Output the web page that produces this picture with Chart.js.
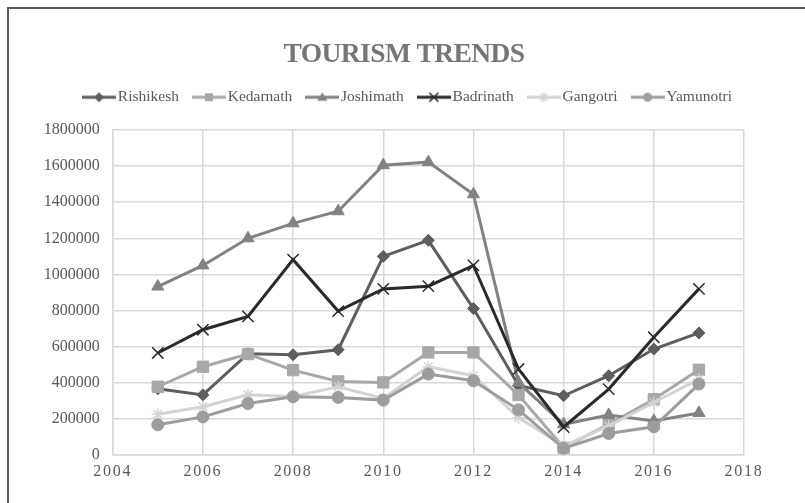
<!DOCTYPE html>
<html>
<head>
<meta charset="utf-8">
<title>Tourism Trends</title>
<script src="https://cdn.jsdelivr.net/npm/chart.js@4/dist/chart.umd.min.js"></script>
<style>
  html, body { margin: 0; padding: 0; background: #ffffff; }
  #wrap { position: relative; width: 805px; height: 503px; overflow: hidden; }
  #frame {
    position: absolute; left: 7px; top: 7px; right: -10px; bottom: -10px;
    border-top: 2px solid #5a5a5a; border-left: 2px solid #5a5a5a;
    pointer-events: none;
  }
  canvas { display: block; }
</style>
</head>
<body>
<div id="wrap">
  <canvas id="chart" width="805" height="503"></canvas>
  <div id="frame"></div>
</div>
<script>
// Visitor counts per year at each destination
const years = [2005, 2006, 2007, 2008, 2009, 2010, 2011, 2012, 2013, 2014, 2015, 2016, 2017];
const seriesNames = ['Rishikesh', 'Kedarnath', 'Joshimath', 'Badrinath', 'Gangotri', 'Yamunotri'];
const rishikesh = [367000, 333000, 561000, 555000, 583000, 1100000, 1189000, 811000, 385000, 328000, 439000, 587000, 676000];
const kedarnath = [378000, 489000, 559000, 470000, 407000, 402000, 568000, 568000, 332000, 41000, 170000, 309000, 472000];
const joshimath = [933000, 1050000, 1200000, 1283000, 1350000, 1605000, 1622000, 1444000, 401000, 170000, 222000, 189000, 233000];
const badrinath = [565000, 694000, 768000, 1082000, 797000, 920000, 935000, 1050000, 476000, 155000, 365000, 652000, 920000];
const gangotri = [226000, 267000, 333000, 324000, 378000, 313000, 489000, 439000, 207000, 50000, 161000, 291000, 420000];
const yamunotri = [167000, 211000, 285000, 322000, 319000, 304000, 448000, 411000, 250000, 37000, 119000, 156000, 393000];

// Axis ranges and tick steps
const xTicks = { min: 2004, max: 2018, step: 2 };
const yTicks = { min: 0, max: 1800000, step: 200000 };

const seriesValues = [rishikesh, kedarnath, joshimath, badrinath, gangotri, yamunotri];
const seriesColors = ['#5e5e5e', '#a8a8a8', '#828282', '#2a2a2a', '#d3d3d3', '#9d9d9d'];
const seriesShapes = ['rectRot', 'rect', 'triangle', 'crossRot', 'star', 'circle'];
const seriesRadius = [6, 8, 7, 8, 6, 6];

const FONT = "'Liberation Serif', 'Times New Roman', serif";
const TEXT = '#595959';

// Small line-plus-marker swatch used as the legend symbol
function legendSwatch(color, shape) {
  const c = document.createElement('canvas');
  c.width = 34; c.height = 14;
  const g = c.getContext('2d');
  const cx = 17, cy = 7;
  g.strokeStyle = color; g.fillStyle = color;
  g.lineWidth = 3;
  g.beginPath(); g.moveTo(0, cy); g.lineTo(34, cy); g.stroke();
  g.lineWidth = 1.5;
  g.beginPath();
  switch (shape) {
    case 'rectRot':
      g.moveTo(cx, cy - 5); g.lineTo(cx + 5, cy); g.lineTo(cx, cy + 5); g.lineTo(cx - 5, cy);
      g.closePath(); g.fill(); break;
    case 'rect':
      g.fillRect(cx - 4, cy - 4, 8, 8); break;
    case 'triangle':
      g.moveTo(cx, cy - 5); g.lineTo(cx + 5, cy + 3.5); g.lineTo(cx - 5, cy + 3.5);
      g.closePath(); g.fill(); break;
    case 'crossRot':
      g.moveTo(cx - 4.5, cy - 4.5); g.lineTo(cx + 4.5, cy + 4.5);
      g.moveTo(cx + 4.5, cy - 4.5); g.lineTo(cx - 4.5, cy + 4.5);
      g.stroke(); break;
    case 'star':
      g.moveTo(cx - 5, cy); g.lineTo(cx + 5, cy);
      g.moveTo(cx, cy - 5); g.lineTo(cx, cy + 5);
      g.moveTo(cx - 3.5, cy - 3.5); g.lineTo(cx + 3.5, cy + 3.5);
      g.moveTo(cx + 3.5, cy - 3.5); g.lineTo(cx - 3.5, cy + 3.5);
      g.stroke(); break;
    default:
      g.arc(cx, cy, 4.5, 0, Math.PI * 2); g.fill();
  }
  return c;
}

const swatches = seriesNames.map((n, i) => legendSwatch(seriesColors[i], seriesShapes[i]));

const datasets = seriesNames.map((name, i) => ({
  label: name,
  data: years.map((yr, k) => ({ x: yr, y: seriesValues[i][k] })),
  borderColor: seriesColors[i],
  backgroundColor: seriesColors[i],
  borderWidth: 3,
  pointStyle: seriesShapes[i],
  pointRadius: seriesRadius[i],
  pointHoverRadius: seriesRadius[i],
  pointBackgroundColor: seriesColors[i],
  pointBorderColor: seriesColors[i],
  pointBorderWidth: (seriesShapes[i] === 'crossRot' || seriesShapes[i] === 'star') ? 1.5 : 1,
  tension: 0,
  fill: false,
  yAxisID: 'y',
  order: seriesNames.length - i   // later series are painted on top
}));

// Wrap a draw method so it runs with extra letter spacing and/or a horizontal shift
function tweak(obj, method, spacing, dx) {
  if (!obj || obj['__tweaked_' + method]) return;
  const orig = obj[method];
  obj[method] = function (...args) {
    const ctx = this.ctx;
    ctx.save();
    if (spacing) ctx.letterSpacing = spacing;
    if (dx) ctx.translate(dx, 0);
    try { return orig.apply(this, args); }
    finally { ctx.restore(); }
  };
  obj['__tweaked_' + method] = true;
}
const textTweaks = {
  id: 'textTweaks',
  beforeDraw(chart) {
    tweak(chart.titleBlock, 'draw', '-0.6px', 0);
    tweak(chart.legend, 'draw', null, 6);
    tweak(chart.scales.x, 'drawLabels', '1.7px', 0);
  }
};

new Chart(document.getElementById('chart'), {
  type: 'line',
  data: { datasets },
  plugins: [textTweaks],
  options: {
    responsive: false,
    devicePixelRatio: 1,
    animation: false,
    events: [],
    layout: { padding: { left: 3, right: 0, top: 41.5, bottom: 14.8 } },
    plugins: {
      title: {
        display: true,
        text: 'TOURISM TRENDS',
        color: '#767676',
        font: { family: FONT, size: 27.5, weight: 'bold', lineHeight: 1 },
        padding: { top: 0, bottom: 1.5 }
      },
      subtitle: {
        display: true,
        text: '',
        weight: 500,
        font: { size: 1, lineHeight: 0 },
        padding: { top: 15, bottom: 0 }
      },
      legend: {
        display: true,
        position: 'top',
        labels: {
          usePointStyle: true,
          pointStyleWidth: 22,
          padding: 19,
          color: TEXT,
          font: { family: FONT, size: 15.5 },
          generateLabels: (chart) => chart.data.datasets.map((ds, i) => ({
            text: ds.label,
            pointStyle: swatches[i],
            fillStyle: seriesColors[i],
            strokeStyle: seriesColors[i],
            lineWidth: 0,
            hidden: false,
            fontColor: TEXT,
            datasetIndex: i
          }))
        }
      },
      tooltip: { enabled: false }
    },
    scales: {
      x: {
        type: 'linear',
        min: xTicks.min,
        max: xTicks.max,
        grid: { color: '#d9d9d9', lineWidth: 1.5, drawTicks: false },
        border: { color: '#d9d9d9', width: 1.5 },
        ticks: {
          stepSize: xTicks.step,
          padding: 7,
          color: TEXT,
          font: { family: FONT, size: 16 },
          callback: (v) => String(v)
        }
      },
      y: {
        position: 'left',
        min: yTicks.min,
        max: yTicks.max,
        afterFit: (s) => { s.width = 109.7; },
        grid: { color: '#d9d9d9', lineWidth: 1.5, drawTicks: false },
        border: { color: '#d9d9d9', width: 1.5 },
        ticks: {
          stepSize: yTicks.step,
          padding: 13,
          color: TEXT,
          font: { family: FONT, size: 16 },
          callback: (v) => String(v)
        }
      },
      // empty right-hand margin beside the plot
      yRight: {
        position: 'right',
        display: true,
        afterFit: (s) => { s.width = 61; },
        grid: { display: false, drawOnChartArea: false },
        border: { display: false },
        ticks: { display: false }
      }
    }
  }
});
</script>
</body>
</html>
